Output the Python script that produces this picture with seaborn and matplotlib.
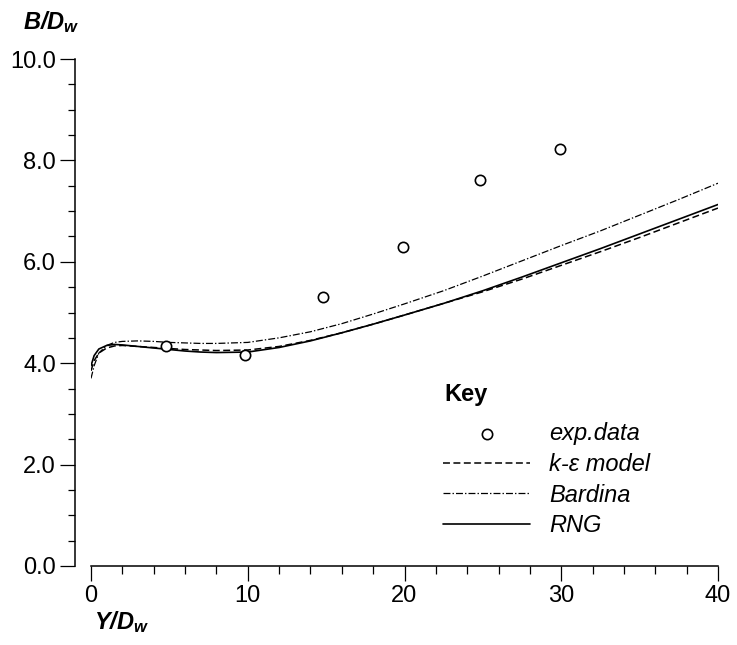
import matplotlib
matplotlib.use("Agg")
import numpy as np
import pandas as pd
import seaborn as sns
from matplotlib import pyplot as plt
from matplotlib.ticker import MultipleLocator, FormatStrFormatter

# experimental points
exp_x = [4.8, 9.8, 14.8, 19.9, 24.8, 29.9]
exp_y = [4.34, 4.16, 5.31, 6.29, 7.61, 8.22]

# model curves
curve_x = [0, 0.2, 0.5, 1, 1.5, 2, 3, 4, 5, 6, 7, 8, 10, 12, 14, 16, 18, 20,
           22.5, 25, 27.5, 30, 32.5, 35, 37.5, 40]
ke_y = [3.85, 4.05, 4.20, 4.30, 4.34, 4.35, 4.33, 4.31, 4.29, 4.27, 4.26, 4.25,
        4.26, 4.33, 4.45, 4.60, 4.77, 4.95, 5.18, 5.41, 5.66, 5.93, 6.20, 6.48,
        6.77, 7.06]
bardina_y = [3.70, 3.95, 4.20, 4.35, 4.41, 4.43, 4.44, 4.43, 4.41, 4.40, 4.39,
             4.39, 4.41, 4.50, 4.62, 4.78, 4.97, 5.17, 5.43, 5.72, 6.02, 6.32,
             6.61, 6.92, 7.23, 7.55]
rng_y = [3.95, 4.15, 4.28, 4.35, 4.37, 4.36, 4.33, 4.30, 4.27, 4.24, 4.22, 4.21,
         4.22, 4.31, 4.44, 4.60, 4.77, 4.95, 5.18, 5.43, 5.70, 5.98, 6.26, 6.55,
         6.84, 7.13]

sns.set_theme(style="ticks")
plt.rcParams["font.family"] = ["Liberation Sans", "DejaVu Sans"]
plt.rcParams["text.color"] = "black"
plt.rcParams["mathtext.fontset"] = "custom"
plt.rcParams["mathtext.rm"] = "Liberation Sans:italic:bold"
plt.rcParams["mathtext.it"] = "Liberation Sans:italic:bold"
plt.rcParams["mathtext.bf"] = "Liberation Sans:italic:bold"
plt.rcParams["lines.scale_dashes"] = False

FS = 17

fig = plt.figure(figsize=(7.37, 6.45), dpi=100)
ax = fig.add_axes([91 / 737, 1 - 566 / 645, (718 - 91) / 737, (566 - 59) / 645])

sns.scatterplot(x=exp_x, y=exp_y, ax=ax, marker="o", s=55, facecolor="white",
                edgecolor="black", linewidth=1.2, label="exp.data", zorder=4)
sns.lineplot(x=curve_x, y=ke_y, ax=ax, color="black", lw=1.1,
             linestyle=(0, (5, 2.5)), label="k-\u03b5 model", sort=False,
             estimator=None)
sns.lineplot(x=curve_x, y=bardina_y, ax=ax, color="black", lw=0.9,
             linestyle=(0, (5, 1.5, 1, 1.5)), label="Bardina", sort=False,
             estimator=None)
sns.lineplot(x=curve_x, y=rng_y, ax=ax, color="black", lw=1.2,
             label="RNG", sort=False, estimator=None)

ax.set_xlim(0, 40)
ax.set_ylim(0, 10)
ax.xaxis.set_major_locator(MultipleLocator(10))
ax.xaxis.set_minor_locator(MultipleLocator(2))
ax.yaxis.set_major_locator(MultipleLocator(2))
ax.yaxis.set_minor_locator(MultipleLocator(0.5))
ax.yaxis.set_major_formatter(FormatStrFormatter("%.1f"))
ax.tick_params(which="major", length=10.8, width=0.9, labelsize=FS, pad=3,
               color="black", labelcolor="black")
ax.tick_params(which="minor", length=5.4, width=0.9, color="black")

for side in ["top", "right"]:
    ax.spines[side].set_visible(False)
for side in ["left", "bottom"]:
    ax.spines[side].set_linewidth(1.1)
    ax.spines[side].set_color("black")
ax.spines["left"].set_position(("outward", 11.5))
ax.set_xlabel("")
ax.set_ylabel("")

fig.text(23 / 737, 1 - 29 / 645, r"$B/D_w$", fontsize=FS, va="baseline")
fig.text(94 / 737, 1 - 629 / 645, r"$Y/D_w$", fontsize=FS, va="baseline")

# key title drawn separately, legend entries below it
fig.text(444 / 737, 1 - 395 / 645, "Key", fontsize=FS, fontweight="bold",
         va="center", ha="left")
handles, labels = ax.get_legend_handles_labels()
leg = ax.legend(handles, labels, loc="upper left",
                bbox_to_anchor=((443 - 91) / 627, (566 - 422) / 507),
                frameon=False, fontsize=FS, borderpad=0, borderaxespad=0,
                handlelength=3.7, handletextpad=0.8, labelspacing=0.33,
                scatterpoints=1)
for t in leg.get_texts():
    t.set_fontstyle("italic")

fig.savefig("out.png", dpi=100)
